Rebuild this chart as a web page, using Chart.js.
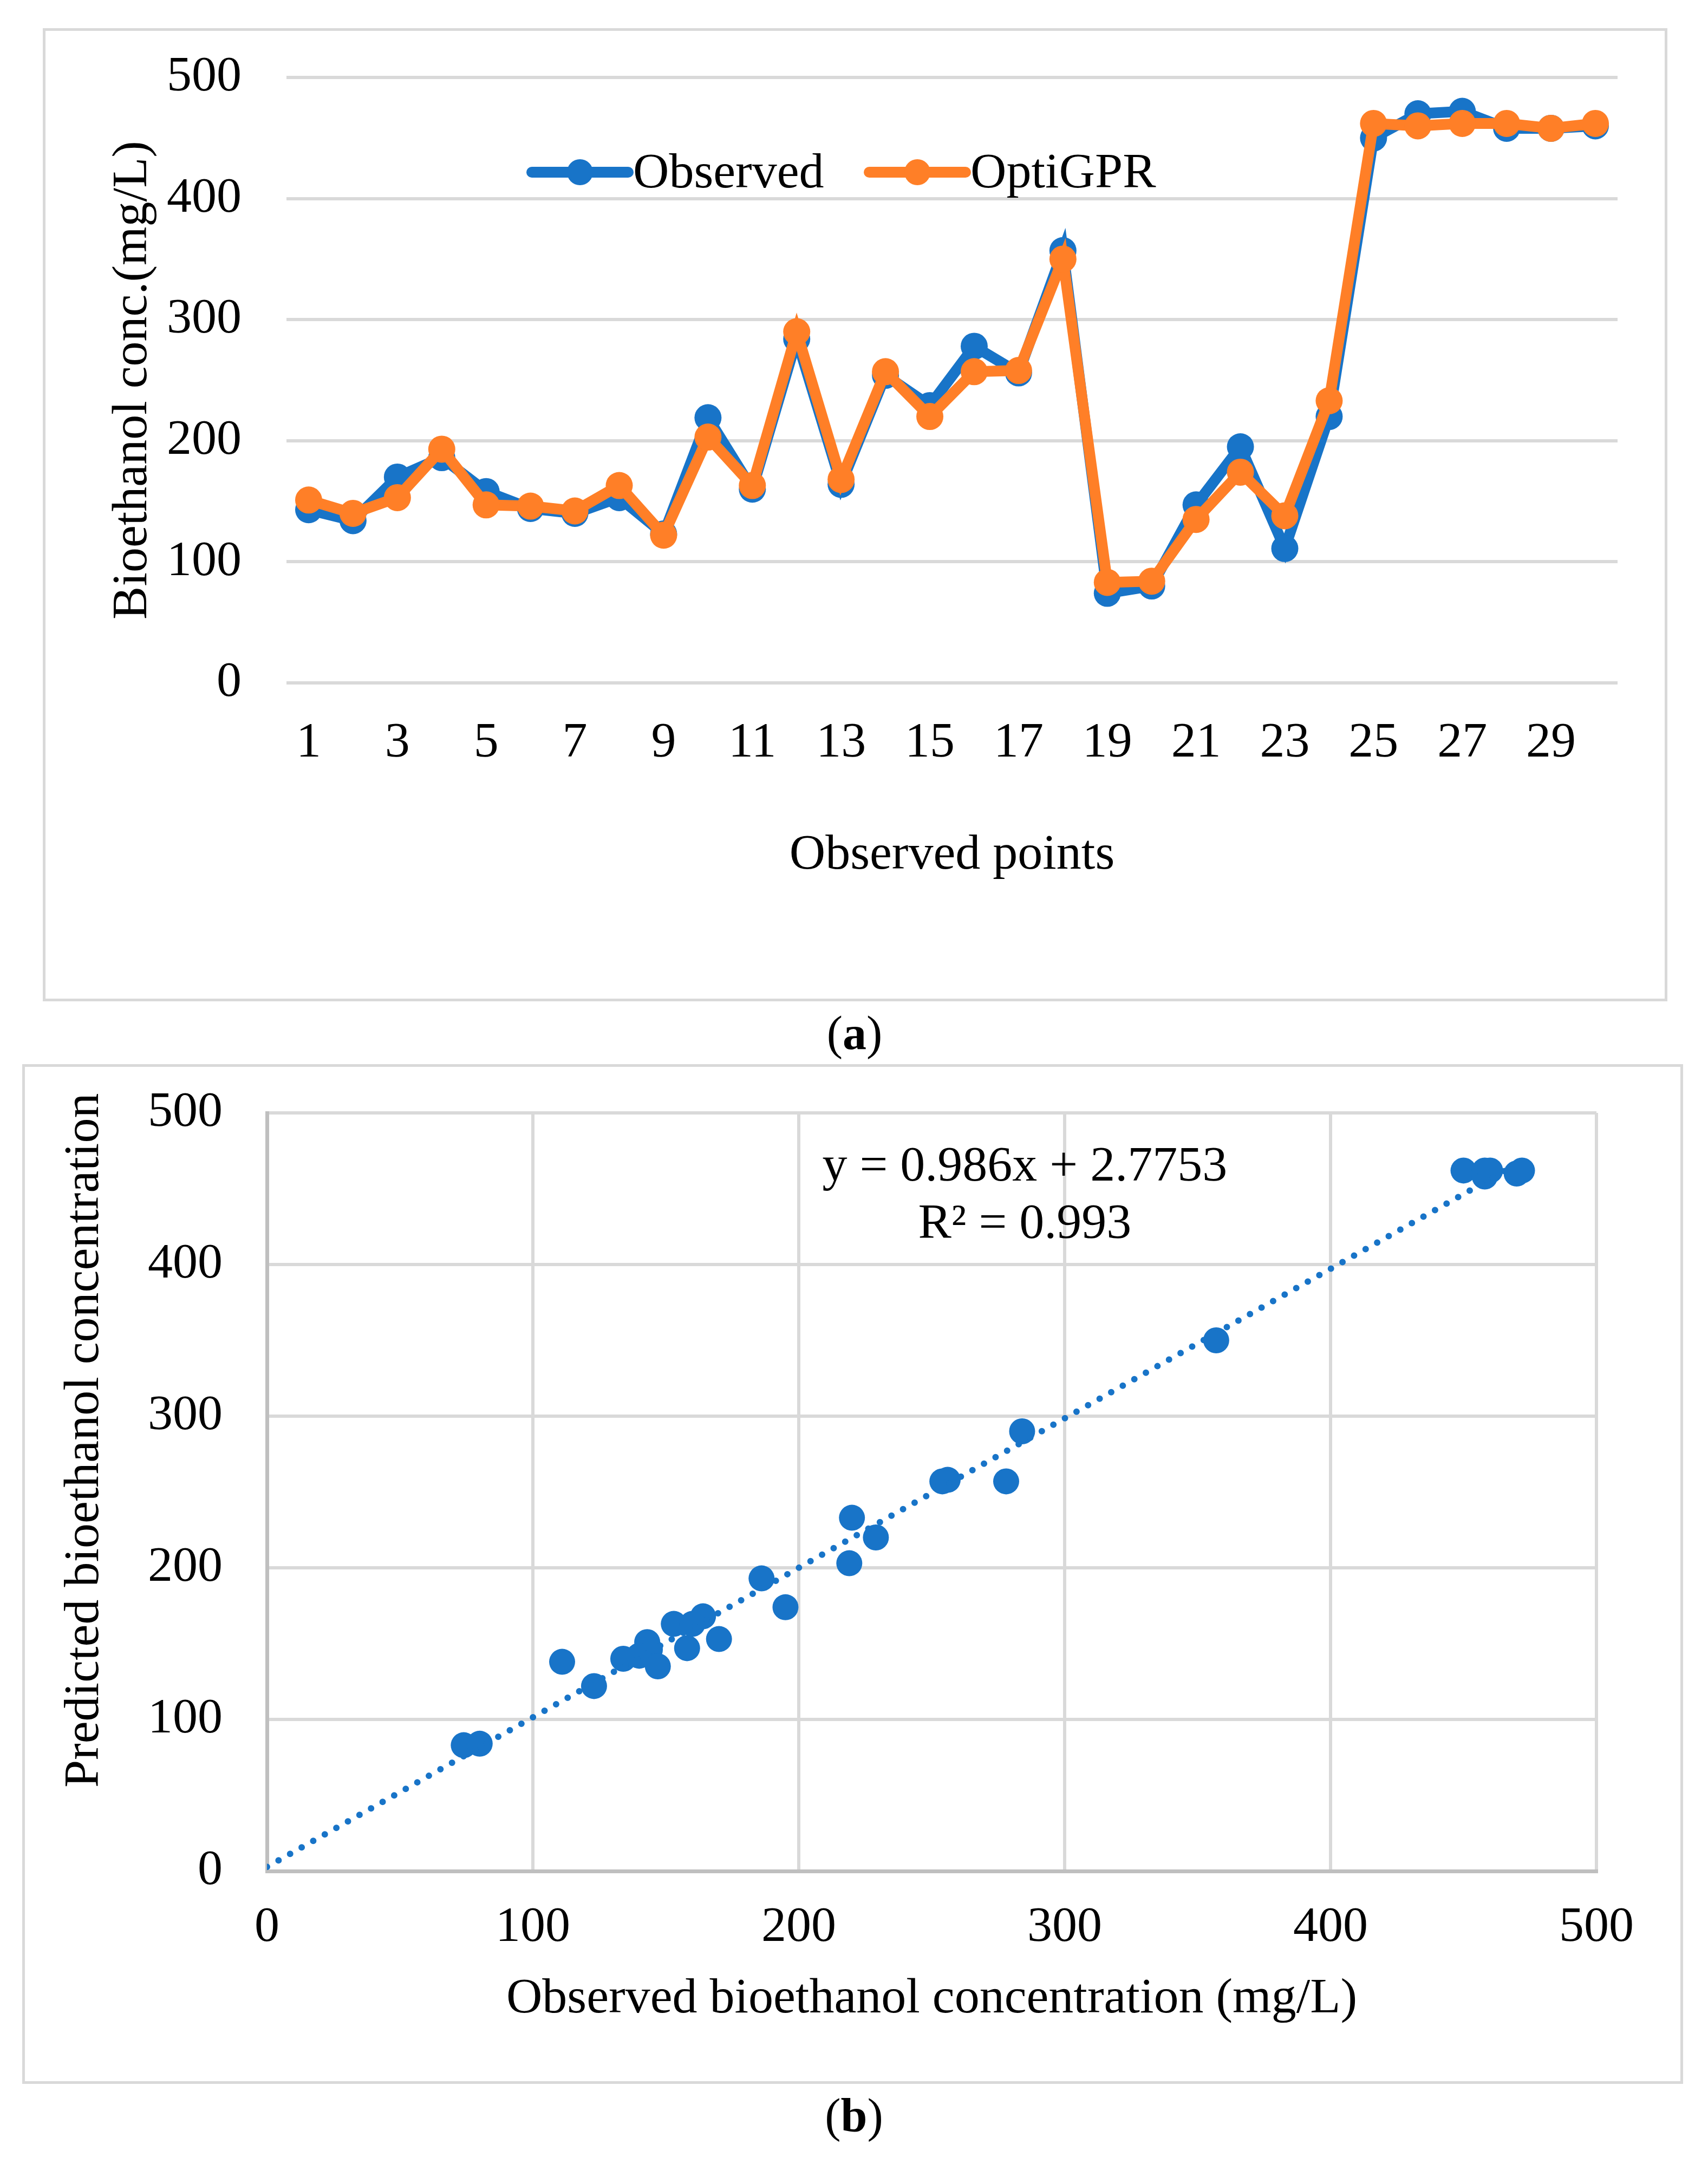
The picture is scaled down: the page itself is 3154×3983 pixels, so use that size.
<!DOCTYPE html>
<html>
<head>
<meta charset="utf-8">
<script src="https://cdn.jsdelivr.net/npm/chart.js@4.4.1/dist/chart.umd.min.js"></script>
<style>
  body { margin: 0; width: 3154px; height: 3983px; background: #fff; position: relative; overflow: hidden; }
  .box { position: absolute; box-sizing: border-box; border: 5px solid #d9d9d9; }
  canvas { position: absolute; }
  .cap { position: absolute; font-family: "Liberation Serif", serif; font-size: 88px; line-height: 1; transform: translate(-50%, -50%); color: #000; }
</style>
</head>
<body>
<div class="box" style="left:79px;top:52px;width:3000px;height:1797px;"></div>
<canvas id="lineChart" width="3000" height="1797" style="left:79px;top:52px;"></canvas>
<div class="cap" style="left:1578px;top:1908px;">(<b>a</b>)</div>

<div class="box" style="left:41px;top:1965px;width:3067px;height:1883px;"></div>
<canvas id="scatterChart" width="3067" height="1883" style="left:41px;top:1965px;"></canvas>
<div class="cap" style="left:1577px;top:3907px;">(<b>b</b>)</div>

<script>
// datos
const puntos = ["1","2","3","4","5","6","7","8","9","10","11","12","13","14","15",
  "16","17","18","19","20","21","22","23","24","25","26","27","28","29","30"];
const observado = [143, 134, 170, 186, 158, 144, 140, 153, 123, 219, 160, 284, 164, 254, 229,
  278, 256, 357, 74, 80, 147, 195, 111, 220, 450, 470, 472, 458, 458, 460];
const optiGPR = [151, 140, 153, 193, 147, 146, 142, 163, 122, 203, 163, 290, 168, 257, 220,
  257, 258, 350, 83, 84, 135, 174, 138, 233, 462, 460, 462, 462, 458, 462];
const yTicks = [0, 100, 200, 300, 400, 500];
const pendiente = 0.986;
const intercepto = 2.7753;
const r2 = 0.993;

const azul = "#1874C8";
const naranja = "#FF7F27";
const fuente = "'Liberation Serif', 'Times New Roman', serif";
const tam = 92;

Chart.defaults.font.family = fuente;
Chart.defaults.font.size = tam;
Chart.defaults.color = "#000";

// leyenda estilo Excel dentro del area
const leyendaPlugin = {
  id: "leyendaExcel",
  afterDraw(chart) {
    const c = chart.ctx;
    const a = chart.chartArea;
    const y = a.top + 175;
    const items = [
      { x: a.left + 453, color: azul, text: "Observed" },
      { x: a.left + 1076, color: naranja, text: "OptiGPR" },
    ];
    c.save();
    items.forEach((it) => {
      c.strokeStyle = it.color;
      c.lineWidth = 20;
      c.lineCap = "round";
      c.beginPath();
      c.moveTo(it.x, y);
      c.lineTo(it.x + 178, y);
      c.stroke();
      c.fillStyle = it.color;
      c.beginPath();
      c.arc(it.x + 89, y, 24, 0, Math.PI * 2);
      c.fill();
      c.fillStyle = "#000";
      c.font = tam + "px " + fuente;
      c.textBaseline = "middle";
      c.textAlign = "left";
      c.fillText(it.text, it.x + 187, y + 4);
    });
    c.restore();
  },
};

// la separacion de las etiquetas del eje y se hace con marcas invisibles
// (ticks.padding tambien empuja el area hacia abajo)
const gridY = (len) => ({
  color: "#d9d9d9",
  lineWidth: 6,
  drawTicks: true,
  tickLength: len,
  tickColor: "rgba(0,0,0,0)",
});

new Chart(document.getElementById("lineChart"), {
  type: "line",
  data: {
    labels: puntos,
    datasets: [
      {
        label: "Observed",
        data: observado,
        borderColor: azul,
        backgroundColor: azul,
        borderWidth: 20,
        pointRadius: 25,
        pointBorderWidth: 0,
        order: 2,
      },
      {
        label: "OptiGPR",
        data: optiGPR,
        borderColor: naranja,
        backgroundColor: naranja,
        borderWidth: 20,
        pointRadius: 25,
        pointBorderWidth: 0,
        order: 1,
      },
    ],
  },
  options: {
    responsive: false,
    animation: false,
    devicePixelRatio: 1,
    layout: { padding: { left: 0, top: 91, right: 92, bottom: 0 } },
    plugins: { legend: { display: false }, tooltip: { enabled: false } },
    scales: {
      x: {
        offset: true,
        grid: { display: false },
        border: { display: false },
        ticks: {
          autoSkip: false,
          maxRotation: 0,
          padding: 49,
          callback: (v, i) => (i % 2 === 0 ? puntos[i] : ""),
        },
        title: { display: true, text: "Observed points", padding: { top: 0, bottom: 214 } },
        afterFit: (s) => { s.height = 588; },
      },
      y: {
        min: 0,
        max: 500,
        afterBuildTicks: (s) => { s.ticks = yTicks.map((v) => ({ value: v })); },
        grid: gridY(83),
        border: { display: false },
        ticks: { padding: 0 },
        title: { display: true, text: "Bioethanol conc.(mg/L)", padding: { top: 112, bottom: 0 } },
        afterFit: (s) => { s.width = 450; },
      },
    },
  },
  plugins: [leyendaPlugin],
});

// grafica de dispersion
const pares = observado.map((x, i) => ({ x: x, y: optiGPR[i] }));
const xMax = Math.max(...observado);
const tendencia = [
  { x: 0, y: intercepto },
  { x: xMax, y: pendiente * xMax + intercepto },
];

// ecuacion de la tendencia y titulo del eje y (algo por encima del centro, como en Excel)
const ecuacionPlugin = {
  id: "ecuacion",
  afterDraw(chart) {
    const c = chart.ctx;
    const xs = chart.scales.x;
    const ys = chart.scales.y;
    const px = xs.getPixelForValue(285);
    c.save();
    c.fillStyle = "#000";
    c.font = tam + "px " + fuente;
    c.textAlign = "center";
    c.textBaseline = "middle";
    c.fillText("y = " + pendiente + "x + " + intercepto, px, ys.getPixelForValue(464));
    c.fillText("R² = " + r2, px, ys.getPixelForValue(426));
    c.translate(116, ys.getPixelForValue(284));
    c.rotate(-Math.PI / 2);
    c.fillText("Predicted bioethanol concentration", 0, 0);
    c.restore();
  },
};

new Chart(document.getElementById("scatterChart"), {
  type: "scatter",
  data: {
    datasets: [
      {
        label: "datos",
        data: pares,
        backgroundColor: azul,
        borderWidth: 0,
        pointRadius: 24,
        order: 2,
      },
      {
        type: "line",
        label: "tendencia",
        data: tendencia,
        borderColor: azul,
        borderWidth: 12,
        borderDash: [0, 24.5],
        borderCapStyle: "round",
        pointRadius: 0,
        fill: false,
        order: 1,
      },
    ],
  },
  options: {
    responsive: false,
    animation: false,
    devicePixelRatio: 1,
    layout: { padding: { left: 0, top: 90, right: 160, bottom: 0 } },
    plugins: { legend: { display: false }, tooltip: { enabled: false } },
    scales: {
      x: {
        type: "linear",
        min: 0,
        max: 500,
        afterBuildTicks: (s) => { s.ticks = yTicks.map((v) => ({ value: v })); },
        grid: { color: "#d9d9d9", lineWidth: 6, drawTicks: false },
        border: { color: "#bfbfbf", width: 7 },
        ticks: { padding: 50 },
        title: { display: true, text: "Observed bioethanol concentration (mg/L)", padding: { top: 0, bottom: 101 } },
        afterFit: (s) => { s.height = 393; },
      },
      y: {
        min: 0,
        max: 500,
        afterBuildTicks: (s) => { s.ticks = yTicks.map((v) => ({ value: v })); },
        grid: gridY(82),
        border: { color: "#bfbfbf", width: 7 },
        ticks: { padding: 0 },
        afterFit: (s) => { s.width = 452; },
      },
    },
  },
  plugins: [ecuacionPlugin],
});
</script>
</body>
</html>
